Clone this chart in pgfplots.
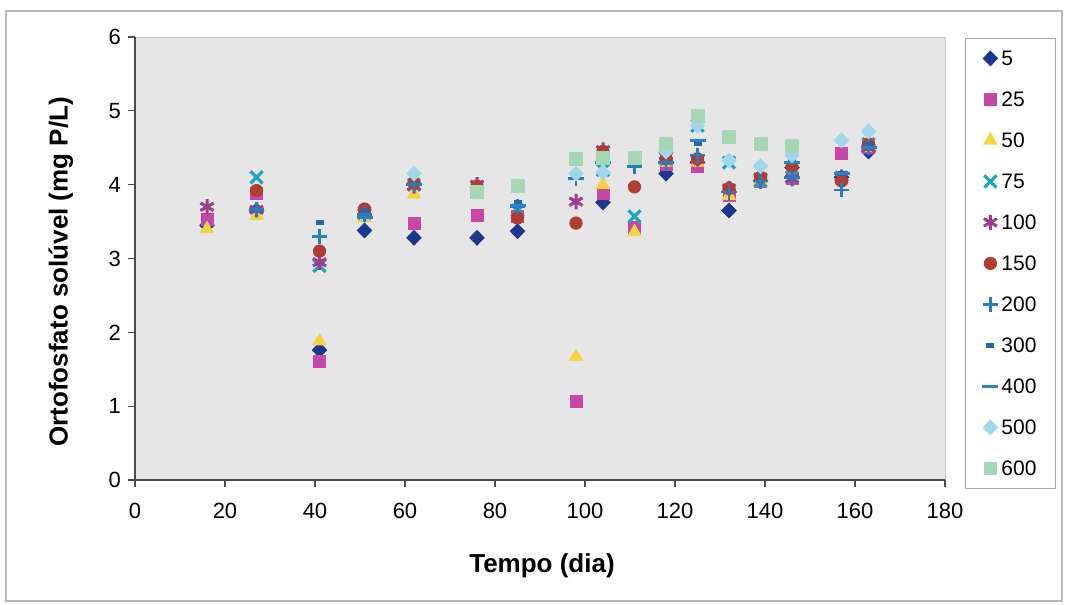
\documentclass[border=0pt]{standalone}
\usepackage{pgfplots}
\pgfplotsset{compat=1.18}
\usepackage{fontspec}
\setmainfont{Liberation Sans}

\definecolor{c5}{RGB}{28,55,140}
\definecolor{c25}{RGB}{200,70,168}
\definecolor{c50}{RGB}{242,212,64}
\definecolor{c75}{RGB}{30,165,190}
\definecolor{c100}{RGB}{160,60,140}
\definecolor{c150}{RGB}{176,60,50}
\definecolor{c200}{RGB}{35,125,190}
\definecolor{c300}{RGB}{40,100,170}
\definecolor{c400}{RGB}{40,130,195}
\definecolor{c500}{RGB}{160,215,235}
\definecolor{c600}{RGB}{165,215,180}
\definecolor{plotbg}{RGB}{230,230,230}

\pgfplotsset{
  pts/.style={only marks,
    legend image code/.code={\draw[mark repeat=2,mark phase=2]
      plot coordinates {(0pt,0pt)(4pt,0pt)(8pt,0pt)};}},
}

\begin{document}
\begin{tikzpicture}[x=0.5pt,y=0.5pt]
\useasboundingbox (0,0) rectangle (1067,605);
\draw[gray!55, line width=0.8pt] (6,4) rectangle (1062,594);
\begin{axis}[
  at={(67.5pt,62.5pt)}, anchor=south west,
  scale only axis, width=405pt, height=221.5pt,
  xmin=0, xmax=180, ymin=0, ymax=6,
  xtick={0,20,...,180}, ytick={0,1,...,6},
  axis x line*=bottom, axis y line*=left,
  axis line style={-, draw=black!70, line width=0.8pt},
  axis background/.style={fill=plotbg, draw=gray!45},
  tick align=outside, major tick length=3.5pt,
  tick style={black!70, line width=0.6pt},
  /pgf/number format/assume math mode=true,
  ticklabel style={font=\fontsize{11}{12}\selectfont},
  xticklabel style={yshift=-4.5pt},
  xlabel={\textbf{Tempo (dia)}},
  ylabel={\textbf{Ortofosfato solúvel (mg P/L)}},
  xlabel style={font=\fontsize{13}{15}\selectfont, at={(axis description cs:0.5025,-0.2077)}, anchor=base},
  ylabel style={font=\fontsize{13}{15}\selectfont, at={(axis description cs:-0.0914,0.47)}, anchor=center},
  legend style={at={(axis description cs:1.0247,0.9977)}, anchor=north west,
    draw=gray!70, fill=white, font=\fontsize{10.5}{12}\selectfont,
    inner xsep=8.5pt, inner ysep=4.5pt, row sep=9.5pt, column sep=0.5pt,
    nodes={inner sep=1pt, text height=8pt, text depth=1pt},
    cells={anchor=west}},
  clip=false,
]
% 5
\addplot[pts, mark=diamond*, mark size=3.7pt, mark options={xscale=1.3, draw=c5, fill=c5}] coordinates {
 (16,3.45) (27,3.65) (41,1.76) (51,3.38) (62,3.28) (76,3.28) (85,3.37) (104,3.76)
 (118,4.15) (125,4.3) (132,3.65) (139,4.05) (146,4.23) (157,4.1) (163,4.45)};
\addlegendentry{5}
% 25
\addplot[pts, mark=square*, mark size=3pt, mark options={draw=c25, fill=c25}] coordinates {
 (16,3.53) (27,3.88) (41,1.6) (51,3.58) (62,3.48) (76,3.58) (85,3.57) (98,1.07) (104,3.88)
 (111,3.42) (118,4.28) (125,4.25) (132,3.85) (139,4.05) (146,4.08) (157,4.43) (163,4.5)};
\addlegendentry{25}
% 50
\addplot[pts, mark=triangle*, mark size=3.8pt, mark options={draw=c50, fill=c50}] coordinates {
 (16,3.4) (27,3.58) (41,1.88) (51,3.55) (62,3.87) (98,1.67) (104,4.0) (111,3.36)
 (118,4.3) (125,4.3) (132,3.85) (139,4.05) (146,4.1) (157,4.05) (163,4.5)};
\addlegendentry{50}
% 75
\addplot[pts, mark=x, mark size=4.3pt, mark options={draw=c75, line width=1.6pt}] coordinates {
 (27,4.1) (41,2.9) (51,3.62) (62,4.0) (85,3.65) (104,4.2) (111,3.57) (118,4.35)
 (125,4.8) (132,4.3) (139,4.05) (146,4.1) (157,4.1) (163,4.55)};
\addlegendentry{75}
% 100
\addplot[pts, mark=asterisk, mark size=3.8pt, mark options={draw=c100, line width=1.5pt}] coordinates {
 (16,3.7) (27,3.66) (41,2.95) (51,3.62) (62,3.98) (76,4.0) (98,3.77) (104,4.47)
 (118,4.4) (125,4.35) (132,3.95) (139,4.1) (146,4.08) (157,4.1) (163,4.5)};
\addlegendentry{100}
% 150
\addplot[pts, mark=*, mark size=3.1pt, mark options={draw=c150, fill=c150}] coordinates {
 (27,3.92) (41,3.1) (51,3.67) (62,4.02) (76,3.98) (85,3.55) (98,3.48) (104,4.45) (111,3.97)
 (118,4.35) (125,4.35) (132,3.95) (139,4.1) (146,4.25) (157,4.05) (163,4.55)};
\addlegendentry{150}
% 200
\addplot[pts, mark=+, mark size=3.8pt, mark options={draw=c200, line width=1.3pt}] coordinates {
 (27,3.66) (41,3.3) (51,3.6) (62,4.0) (85,3.7) (98,4.08) (104,4.3) (111,4.25)
 (118,4.3) (125,4.4) (132,3.9) (139,4.05) (146,4.1) (157,3.93) (163,4.5)};
\addlegendentry{200}
% 300
\addplot[pts, mark=-, mark size=2pt, mark options={draw=c300, line width=2.2pt}] coordinates {
 (41,3.49) (51,3.66) (85,3.76) (125,4.55) (146,4.33) (157,4.15) (163,4.55)};
\addlegendentry{300}
% 400
\addplot[pts, mark=-, mark size=4pt, mark options={draw=c400, line width=1.6pt}] coordinates {
 (51,3.55) (85,3.72) (125,4.6) (146,4.3) (157,4.15) (163,4.5)};
\addlegendentry{400}
% 500
\addplot[pts, mark=diamond*, mark size=3.7pt, mark options={xscale=1.3, draw=c500, fill=c500}] coordinates {
 (62,4.15) (98,4.15) (104,4.17) (118,4.45) (125,4.8) (132,4.33) (139,4.25) (146,4.4)
 (157,4.6) (163,4.72)};
\addlegendentry{500}
% 600
\addplot[pts, mark=square*, mark size=3.2pt, mark options={draw=c600, fill=c600}] coordinates {
 (76,3.9) (85,3.98) (98,4.35) (104,4.36) (111,4.36) (118,4.55) (125,4.93) (132,4.65)
 (139,4.55) (146,4.53)};
\addlegendentry{600}
\end{axis}
\end{tikzpicture}
\end{document}
